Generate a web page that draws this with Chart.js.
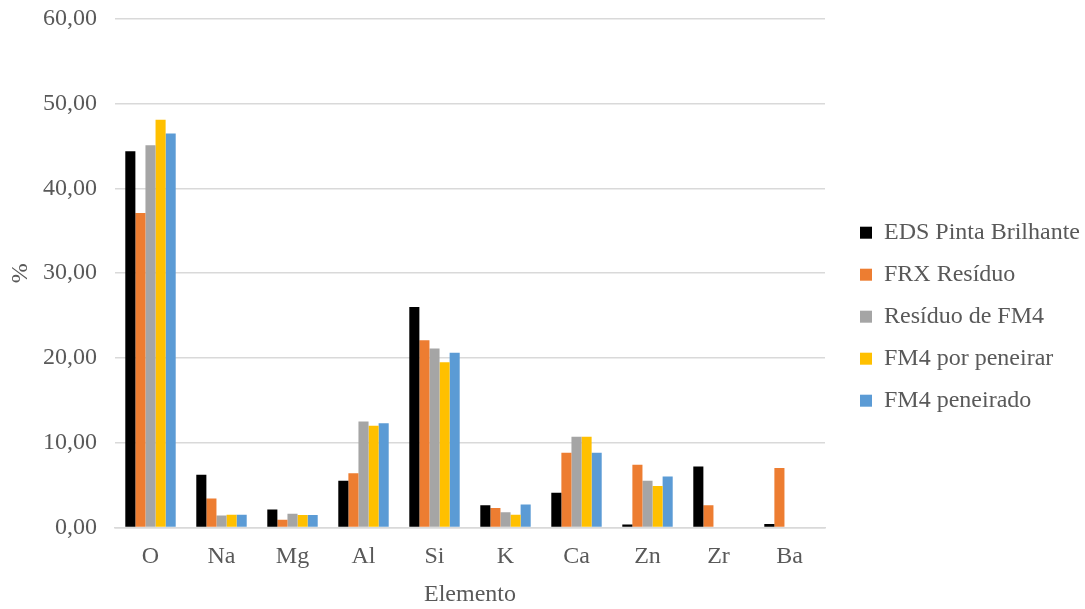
<!DOCTYPE html>
<html>
<head>
<meta charset="utf-8">
<script src="https://cdn.jsdelivr.net/npm/chart.js@4.4.1/dist/chart.umd.min.js"></script>
<style>
  html, body { margin: 0; padding: 0; background: #fff; }
  #wrap { width: 1085px; height: 609px; }
</style>
</head>
<body>
<div id="wrap"><canvas id="chart"></canvas></div>
<script>
// elementos
const elementos = ['O', 'Na', 'Mg', 'Al', 'Si', 'K', 'Ca', 'Zn', 'Zr', 'Ba'];

// % por série
const edsPinta    = [44.4, 6.2, 2.1, 5.5, 26.0, 2.6, 4.1, 0.35, 7.2, 0.4];
const frxResiduo  = [37.1, 3.4, 0.9, 6.4, 22.1, 2.3, 8.8, 7.4, 2.6, 7.0];
const residuoFM4  = [45.1, 1.4, 1.6, 12.5, 21.1, 1.8, 10.7, 5.5, null, null];
const fm4Peneirar = [48.1, 1.5, 1.45, 12.0, 19.5, 1.5, 10.7, 4.9, null, null];
const fm4Peneirado= [46.5, 1.5, 1.45, 12.3, 20.6, 2.7, 8.8, 6.0, null, null];

const yTicks = [0, 10, 20, 30, 40, 50, 60];

const serif = "'Liberation Serif', 'Times New Roman', serif";
const cinza = '#595959';

// legenda: reserva espaço à direita e empurra os itens para longe do gráfico
const legendaLarga = {
    id: 'legendaLarga',
    afterInit(chart) {
        const fit = chart.legend.fit;
        chart.legend.fit = function () {
            fit.call(this);
            this.width = 260;
        };
    },
    afterLayout(chart) {
        chart.legend.left += 17;
    }
};

const ctx = document.getElementById('chart').getContext('2d');
new Chart(ctx, {
    type: 'bar',
    data: {
        labels: elementos,
        datasets: [
            { label: 'EDS Pinta Brilhante', data: edsPinta, backgroundColor: '#000000' },
            { label: 'FRX Resíduo', data: frxResiduo, backgroundColor: '#ed7d31' },
            { label: 'Resíduo de FM4', data: residuoFM4, backgroundColor: '#a5a5a5' },
            { label: 'FM4 por peneirar', data: fm4Peneirar, backgroundColor: '#ffc000' },
            { label: 'FM4 peneirado', data: fm4Peneirado, backgroundColor: '#5b9bd5' }
        ]
    },
    options: {
        responsive: true,
        maintainAspectRatio: false,
        animation: false,
        layout: { padding: 0 },
        datasets: {
            bar: { categoryPercentage: 0.71, barPercentage: 1.0 }
        },
        scales: {
            x: {
                grid: { display: false },
                border: { color: '#d9d9d9', width: 1.5 },
                ticks: { color: cinza, font: { family: serif, size: 24 }, padding: 7 },
                title: { display: true, text: 'Elemento', color: cinza, font: { family: serif, size: 24 }, padding: { top: 2, bottom: 0 } }
            },
            y: {
                min: 0,
                max: 60,
                afterBuildTicks: axis => { axis.ticks = yTicks.map(v => ({ value: v })); },
                afterFit: s => { s.width = 115; s.paddingTop = 19; s.paddingBottom = 0; },
                grid: { color: '#d9d9d9', lineWidth: 1.5, drawTicks: false },
                border: { display: false },
                ticks: {
                    color: cinza,
                    font: { family: serif, size: 24 },
                    padding: 18,
                    callback: v => v.toFixed(2).replace('.', ',')
                },
                title: { display: true, text: '%', color: cinza, font: { family: serif, size: 24 }, padding: { top: 6, bottom: 8 } }
            }
        },
        plugins: {
            legend: {
                position: 'right',
                title: { display: true, text: ' ', font: { size: 12 }, padding: 5 },
                labels: {
                    boxWidth: 12,
                    boxHeight: 12,
                    padding: 18,
                    color: cinza,
                    font: { family: serif, size: 24 }
                }
            },
            tooltip: { enabled: false }
        }
    },
    plugins: [legendaLarga]
});
</script>
</body>
</html>
